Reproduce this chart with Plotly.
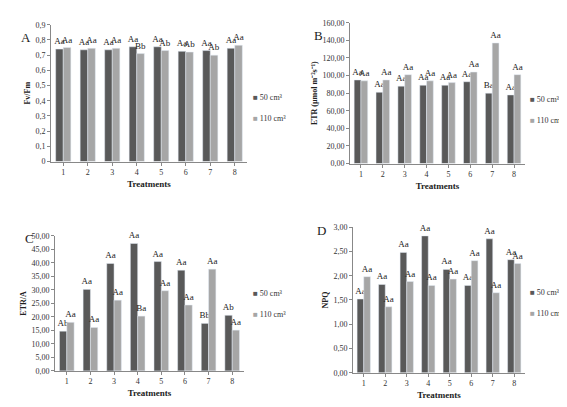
import plotly.graph_objects as go

cats = ["1","2","3","4","5","6","7","8"]
a50 = [0.74,0.735,0.735,0.755,0.755,0.725,0.73,0.745]
a110 = [0.75,0.745,0.745,0.71,0.73,0.72,0.70,0.765]
a50_l = ["Aa"]*8
a110_l = ["Aa","Aa","Aa","Bb","Ab","Ab","Ab","Aa"]
b50 = [95,81,88,89,89,93,80,78]
b110 = [94,95,101,94,92,104,137,101]
b50_l = ["Aa","Aa","Aa","Aa","Aa","Aa","Ba","Aa"]
b110_l = ["Aa"]*8
c50 = [14.7,30.2,39.8,47.2,40.5,37.3,17.6,20.6]
c110 = [18.0,16.1,26.2,20.3,29.7,24.4,37.7,15.1]
c50_l = ["Ab","Aa","Aa","Aa","Aa","Aa","Bb","Ab"]
c110_l = ["Aa","Aa","Aa","Ba","Aa","Aa","Aa","Aa"]
d50 = [1.52,1.82,2.48,2.82,2.13,1.80,2.76,2.33]
d110 = [1.98,1.36,1.88,1.80,1.93,2.31,1.65,2.25]
d50_l = ["Aa"]*8
d110_l = ["Aa"]*8
series_names = ["50 cm³","110 cm³"]

W, H = 567, 407
DARK, LIGHT = "#595959", "#a6a6a6"
FONT = "Liberation Serif"

panels = [
    ("A", a50, a110, a50_l, a110_l, "Fv/Fm", [0,0.9], 0.1, 1, 43, 239, 13, 153, 243, 81),
    ("B", b50, b110, b50_l, b110_l, "ETR (µmol m⁻²s⁻¹)", [0,160], 20, 2, 342, 517, 11, 155, 520, 83),
    ("C", c50, c110, c50_l, c110_l, "ETR/A", [0,50], 5, 2, 47, 236, 229, 367, 243, 295),
    ("D", d50, d110, d50_l, d110_l, "NPQ", [0,3], 0.5, 2, 345, 517, 220, 369, 520, 294),
]

fig = go.Figure()
annotations = []
for i, (let, v50, v110, l50, l110, yt, rng, dt, dec, x0, x1, yt0, yb0, lx, ly) in enumerate(panels):
    k = "" if i == 0 else str(i + 1)
    xa, ya = "x" + k, "y" + k
    for vals, labs, col, nm in [(v50, l50, DARK, series_names[0]), (v110, l110, LIGHT, series_names[1])]:
        fig.add_trace(go.Bar(x=cats, y=vals, text=labs, textposition="outside",
                             textfont=dict(family=FONT, size=9, color="#222"),
                             marker_color=col, xaxis=xa, yaxis=ya, name=nm,
                             showlegend=False, cliponaxis=False))
    ticks = [round(rng[0] + j * dt, 4) for j in range(int(round((rng[1] - rng[0]) / dt)) + 1)]
    if dec == 1:
        tt = ["0" if t == 0 else f"{t:.1f}".replace(".", ",") for t in ticks]
    else:
        tt = [f"{t:.2f}".replace(".", ",") for t in ticks]
    axstyle = dict(showline=True, linecolor="#888", linewidth=1, ticks="outside",
                   tickcolor="#888", ticklen=3, showgrid=False, zeroline=False,
                   tickfont=dict(family=FONT, size=8, color="#333"))
    fig.update_layout(**{
        "xaxis" + k: dict(domain=[x0 / W, x1 / W], anchor=ya,
                          title=dict(text="<b>Treatments</b>", font=dict(family=FONT, size=9, color="#222"), standoff=4),
                          **axstyle),
        "yaxis" + k: dict(domain=[1 - yb0 / H, 1 - yt0 / H], anchor=xa, range=rng,
                          tickvals=ticks, ticktext=tt,
                          title=dict(text="<b>" + yt + "</b>", font=dict(family=FONT, size=8, color="#222"), standoff=3),
                          **axstyle),
    })
    annotations.append(dict(text=let, x=(x0 - 32) / W if i in (0, 2) else (x0 - 38) / W,
                            y=1 - (yt0 + 3) / H, xref="paper", yref="paper",
                            showarrow=False, font=dict(family=FONT, size=13, color="#222"),
                            xanchor="left"))
    annotations.append(dict(text=f"<span style='color:{DARK}'>■</span> 50 cm³", x=lx / W, y=1 - ly / H,
                            xref="paper", yref="paper", showarrow=False, xanchor="left",
                            font=dict(family=FONT, size=8, color="#333")))
    annotations.append(dict(text=f"<span style='color:{LIGHT}'>■</span> 110 cm³", x=lx / W, y=1 - (ly + 21) / H,
                            xref="paper", yref="paper", showarrow=False, xanchor="left",
                            font=dict(family=FONT, size=8, color="#333")))

fig.update_layout(width=W, height=H, margin=dict(l=0, r=0, t=0, b=0),
                  paper_bgcolor="white", plot_bgcolor="white",
                  barmode="group", bargap=0.38, bargroupgap=0,
                  annotations=annotations, uniformtext=dict(minsize=7, mode="show"))
fig.write_html("out.html")
